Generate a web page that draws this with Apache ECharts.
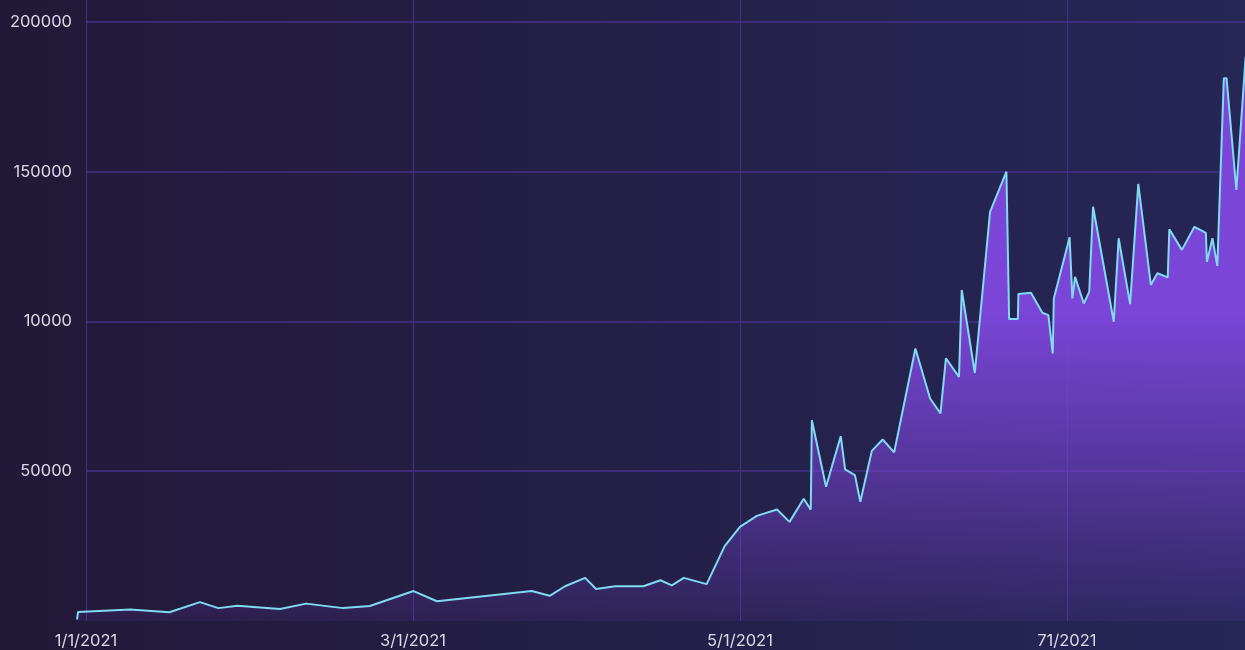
<!DOCTYPE html>
<html>
<head>
<meta charset="utf-8">
<script src="https://cdn.jsdelivr.net/npm/echarts@6/dist/echarts.min.js"></script>
<style>
  html, body { margin: 0; padding: 0; }
  #chart { width: 1245px; height: 650px; }
</style>
</head>
<body>
<div id="chart"></div>
<script>
// position along the x axis (60 units between labels) and value
const dayIndex = [-1.65, -1.45, 8.1, 15.3, 20.9, 24.3, 27.8, 35.6, 40.4, 47.2, 52.1, 60.1, 64.4,
  81.8, 85.1, 87.9, 91.6, 93.6, 97.1, 102.3, 105.4, 107.5, 109.7, 113.9, 117.2, 120, 123.1, 126.8,
  129.1, 131.7, 133.0, 133.2, 135.8, 138.5, 139.3, 141.1, 142.1, 144.2, 146.2, 148.3, 152.2, 154.9,
  156.8, 157.8, 160.2, 160.7, 163.1, 165.9, 168.9, 169.4, 171.0, 171.1, 173.4, 175.5, 176.6, 177.4,
  177.6, 180.5, 181.0, 181.5, 183.1, 184.1, 184.8, 188.6, 189.5, 191.6, 193.1, 195.4, 196.6, 198.5,
  198.8, 201.1, 203.4, 205.5, 205.7, 206.7, 207.6, 208.8, 209.3, 211.1, 212.8];
const values = [500, 3000, 3800, 2900, 6300, 4300, 5100, 4000, 5800, 4300, 5000, 10000, 6600,
  10000, 8400, 11600, 14400, 10700, 11600, 11600, 13600, 11900, 14400, 12300, 25000, 31400, 35100, 37200,
  33100, 40800, 37200, 67000, 44800, 61700, 50600, 48700, 39800, 56800, 60600, 56300, 91000, 74300,
  69300, 87700, 81500, 110500, 82800, 136600, 150000, 100800, 100800, 109200, 109600, 102900, 102100, 89300,
  107700, 128100, 107700, 114900, 106000, 109900, 138300, 99900, 127800, 105800, 145900, 112200, 116100, 114700,
  130800, 123900, 131600, 129600, 119900, 127800, 118500, 181200, 181200, 143900, 188400];

const xTickValues = [0, 60, 120, 180];
const xTickLabels = ['1/1/2021', '3/1/2021', '5/1/2021', '71/2021'];
const yTickValues = [50000, 100000, 150000, 200000];
const yTickLabels = ['50000', '10000', '150000', '200000'];

const chart = echarts.init(document.getElementById('chart'));

const gridColor = '#45308a';
const labelStyle = { color: '#dcd8e8', fontSize: 16.5, fontFamily: 'Inter' };

// the line starts a little left of the first gridline, so it sits on its own
// slightly wider grid with hidden axes (same scale as the labelled grid)
const option = {
  backgroundColor: new echarts.graphic.LinearGradient(0, 0, 1, 0, [
    { offset: 0, color: '#221938' },
    { offset: 1, color: '#262657' }
  ]),
  animation: false,
  grid: [
    { left: 86, right: -5, top: -8, bottom: 29, outerBoundsMode: 'none' },
    { left: 76, right: -5, top: -8, bottom: 29, outerBoundsMode: 'none' }
  ],
  xAxis: [
    {
      type: 'value',
      gridIndex: 0,
      min: 0,
      max: 213.6,
      interval: 60,
      axisLine: { show: false },
      axisTick: { show: false },
      axisLabel: {
        ...labelStyle,
        margin: 12,
        formatter: v => {
          const i = xTickValues.indexOf(v);
          return i >= 0 ? xTickLabels[i] : '';
        }
      },
      splitLine: { show: true, lineStyle: { color: gridColor, width: 1 } }
    },
    {
      type: 'value',
      gridIndex: 1,
      min: -1.835,
      max: 213.6,
      show: false
    }
  ],
  yAxis: [
    {
      type: 'value',
      gridIndex: 0,
      min: 0,
      max: 210000,
      interval: 50000,
      axisLine: { show: false },
      axisTick: { show: false },
      axisLabel: {
        ...labelStyle,
        margin: 14,
        formatter: v => {
          const i = yTickValues.indexOf(v);
          return i >= 0 ? yTickLabels[i] : '';
        }
      },
      splitLine: { show: true, showMinLine: false, lineStyle: { color: gridColor, width: 1.5 } }
    },
    {
      type: 'value',
      gridIndex: 1,
      min: 0,
      max: 210000,
      show: false
    }
  ],
  series: [
    {
      type: 'line',
      xAxisIndex: 1,
      yAxisIndex: 1,
      data: dayIndex.map((x, i) => [x, values[i]]),
      symbol: 'none',
      lineStyle: { color: '#80daf2', width: 2 },
      areaStyle: {
        opacity: 1,
        color: new echarts.graphic.LinearGradient(0, 0, 0, 1, [
          { offset: 0, color: 'rgba(123,69,216,1)' },
          { offset: 0.45, color: 'rgba(123,69,216,1)' },
          { offset: 0.57, color: 'rgba(123,69,216,0.8)' },
          { offset: 0.79, color: 'rgba(123,69,216,0.45)' },
          { offset: 0.87, color: 'rgba(123,69,216,0.3)' },
          { offset: 0.96, color: 'rgba(123,69,216,0.17)' },
          { offset: 1, color: 'rgba(123,69,216,0.1)' }
        ])
      }
    }
  ]
};

chart.setOption(option);
</script>
</body>
</html>
